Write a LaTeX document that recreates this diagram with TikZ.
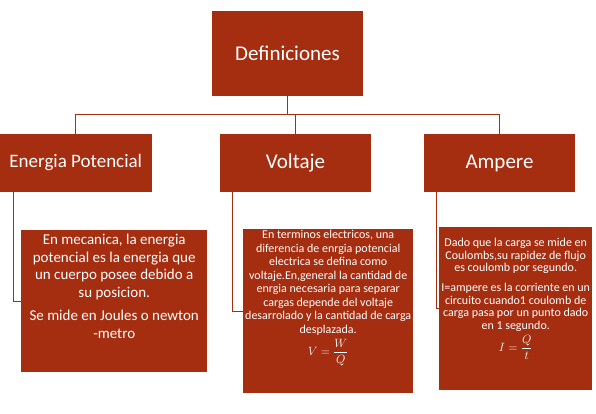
\documentclass[tikz,border=0pt]{standalone}
\usepackage{amsmath}
\usepackage{fontspec}
\setmainfont{Carlito}
\usepackage{tikz}
\usetikzlibrary{positioning}
\definecolor{boxred}{RGB}{165,46,17}
\tikzset{
head/.style={fill=boxred, text=white, minimum width=151pt, minimum height=58pt, inner sep=0pt, font=\fontsize{21}{25}\selectfont}, % the title boxes
defbox/.style={fill=boxred, inner sep=0pt, anchor=north west}, % the boxes behind the definitions
deftext/.style={text=white, align=center, inner sep=0pt}, % the definitions themselves
link/.style={draw=boxred, line width=1pt}, % the lines between boxes
}

\begin{document}
\begin{tikzpicture}[x=1pt, y=-1pt]
    \useasboundingbox (0,0) rectangle (596,414);
    % titles
    \node[head, minimum height=85pt] (def) at (287.5,53.5) {Definiciones};
    \node[head, minimum width=152pt, font=\fontsize{19}{23}\selectfont] (ep) at (75.75,163) {Energia Potencial};
    \node[head] (vol) at (295.5,163) {Voltaje};
    \node[head] (amp) at (499.5,163) {Ampere};
    % definition boxes
    \node[defbox, minimum width=186pt, minimum height=142pt] (epdef) at (21,230) {};
    \node[defbox, minimum width=170pt, minimum height=164pt] (voldef) at (243,229) {};
    \node[defbox, minimum width=153pt, minimum height=163pt] (ampdef) at (439,227) {};
    \node[deftext, font=\fontsize{15}{17.6}\selectfont, below=4pt of epdef.north] (eptext)
      {En mecanica, la energia\\potencial  es la energia que\\un cuerpo  posee debido a\\su posicion.\\[5.7pt]Se mide en Joules o newton\\-metro};
    \node[deftext, font=\fontsize{12}{13.5}\selectfont, below=1pt of voldef.north] (voltext)
      {En terminos electricos, una\\diferencia de enrgia potencial\\electrica se defina como\\voltaje.En,general la cantidad de\\enrgia necesaria para separar\\cargas depende del voltaje\\desarrolado y la cantidad de carga\\desplazada.\\[3pt]$V=\dfrac{W}{Q}$};
    \node[deftext, font=\fontsize{12}{12.5}\selectfont, below=11pt of ampdef.north] (amptext)
      {Dado que la  carga  se mide en\\Coulombs,su rapidez de flujo\\es coulomb por segundo.\\[7.5pt]I=ampere es la corriente en un\\circuito cuando1 coulomb de\\carga pasa por un punto dado\\en 1 segundo.\\[3pt]$I=\dfrac{Q}{t}$};
    % connectors
    \draw[link] (def.south) -- ++(0,18.5) coordinate (split) -| (ep.north);
    \draw[link] (split) -| (vol.north);
    \draw[link] (split) -| (amp.north);
    \draw[link] ([xshift=14pt]ep.south west) |- (epdef.west);
    \draw[link] ([xshift=13pt]vol.south west) |- (voldef.west);
    \draw[link] ([xshift=13pt]amp.south west) |- (ampdef.west);
\end{tikzpicture}
\end{document}
